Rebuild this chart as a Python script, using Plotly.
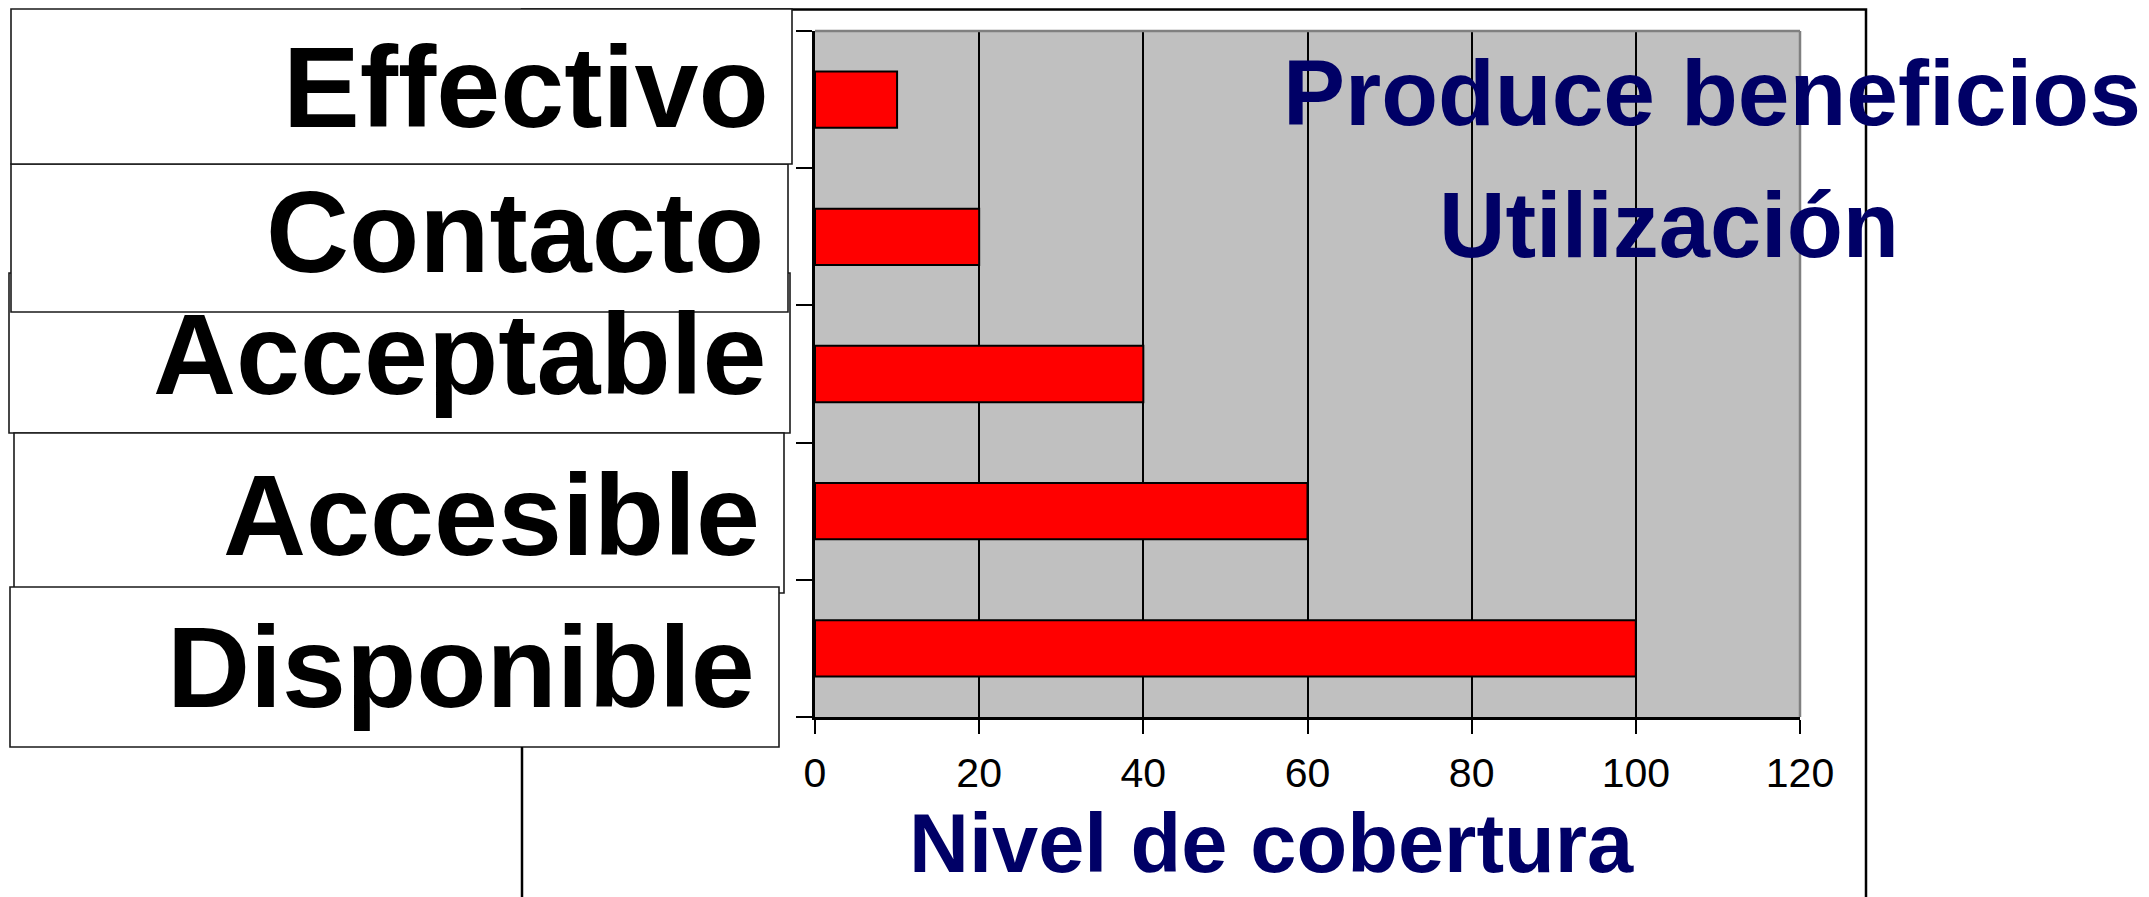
import plotly.graph_objects as go

# ---- data ----
categories = ["Disponible", "Accesible", "Acceptable", "Contacto", "Effectivo"]
values = [100, 60, 40, 20, 10]
x_ticks = [0, 20, 40, 60, 80, 100, 120]
title_lines = ["Produce beneficios", "Utilización"]
x_title = "Nivel de cobertura"

# ---- layout geometry (screen pixels; page body has an 8px margin) ----
OFF = 8
W, H = 2149 - OFF, 897 - OFF
L, R, T, B = 815 - OFF, 1800 - OFF, 31 - OFF, 717 - OFF
FONT = "Liberation Sans, Arial, sans-serif"
NAVY = "#000066"


def px(x):
    return (x - OFF - L) / (R - L)


def py(y):
    return (B - (y - OFF)) / (B - T)


fig = go.Figure(
    go.Bar(
        x=values,
        y=categories,
        orientation="h",
        marker=dict(color="#FF0000", line=dict(color="#000000", width=2)),
        hoverinfo="x+y",
    )
)

shapes = []
annotations = []

# outer frame (left edge hidden behind label boxes)
shapes.append(dict(type="rect", xref="paper", yref="paper",
                   x0=px(522), x1=px(1866), y0=py(9.5), y1=py(940),
                   line=dict(color="#000000", width=2.5), fillcolor="rgba(0,0,0,0)",
                   layer="above"))

# plot area border (gray top/right)
shapes.append(dict(type="line", xref="paper", yref="paper", x0=0, x1=1, y0=1, y1=1,
                   line=dict(color="#808080", width=2.5), layer="above"))
shapes.append(dict(type="line", xref="paper", yref="paper", x0=1, x1=1, y0=0, y1=1,
                   line=dict(color="#808080", width=2.5), layer="above"))

# label boxes: (category, x0, x1, y0, y1, text right edge, text cap-centre y), drawing order
boxes = [
    ("Acceptable", 9, 790, 273, 433, 769, 354),
    ("Contacto", 11, 788, 164, 312, 766, 232),
    ("Effectivo", 11, 792, 9, 164, 771, 87),
    ("Accesible", 14, 784, 433, 593, 762, 515),
    ("Disponible", 10, 779, 587, 747, 757, 667),
]
for name, x0, x1, y0, y1, tx, ty in boxes:
    shapes.append(dict(type="rect", xref="paper", yref="paper",
                       x0=px(x0), x1=px(x1), y0=py(y1), y1=py(y0),
                       line=dict(color="#1a1a1a", width=1.6), fillcolor="#FFFFFF",
                       layer="above"))
    annotations.append(dict(text=f"<b>{name}</b>", xref="paper", yref="paper",
                            x=px(tx), y=py(ty), xanchor="right", yanchor="middle",
                            showarrow=False,
                            font=dict(family=FONT, size=115, color="#000000")))

# connector line below Disponible box
shapes.append(dict(type="line", xref="paper", yref="paper",
                   x0=px(522), x1=px(522), y0=py(747), y1=py(940),
                   line=dict(color="#000000", width=2), layer="above"))

# titles
annotations.append(dict(text=f"<b>{title_lines[0]}</b>", xref="paper", yref="paper",
                        x=px(1712), y=py(93), xanchor="center", yanchor="middle",
                        showarrow=False, font=dict(family=FONT, size=93, color=NAVY)))
annotations.append(dict(text=f"<b>{title_lines[1]}</b>", xref="paper", yref="paper",
                        x=px(1669), y=py(225), xanchor="center", yanchor="middle",
                        showarrow=False, font=dict(family=FONT, size=92, color=NAVY)))
annotations.append(dict(text=f"<b>{x_title}</b>", xref="paper", yref="paper",
                        x=px(1271), y=py(843), xanchor="center", yanchor="middle",
                        showarrow=False, font=dict(family=FONT, size=83, color=NAVY)))

fig.update_layout(
    width=W, height=H,
    margin=dict(l=L, r=W - R, t=T, b=H - B, pad=0),
    paper_bgcolor="#FFFFFF",
    plot_bgcolor="#C0C0C0",
    bargap=0.59,
    showlegend=False,
    shapes=shapes,
    annotations=annotations,
    xaxis=dict(
        range=[0, 120], tickvals=x_ticks, ticktext=[str(v) for v in x_ticks],
        showgrid=True, gridcolor="#000000", gridwidth=2,
        showline=True, linecolor="#000000", linewidth=2.5,
        ticks="outside", ticklen=14, tickwidth=2, tickcolor="#000000",
        tickfont=dict(family=FONT, size=41, color="#000000"),
        ticklabelstandoff=4,
        zeroline=False, fixedrange=True,
    ),
    yaxis=dict(
        type="category", categoryorder="array", categoryarray=categories,
        showticklabels=False, showgrid=False,
        showline=True, linecolor="#000000", linewidth=2.5,
        ticks="outside", tickson="boundaries", ticklen=16, tickwidth=2, tickcolor="#000000",
        zeroline=False, fixedrange=True,
    ),
)

fig.write_html("out.html")
